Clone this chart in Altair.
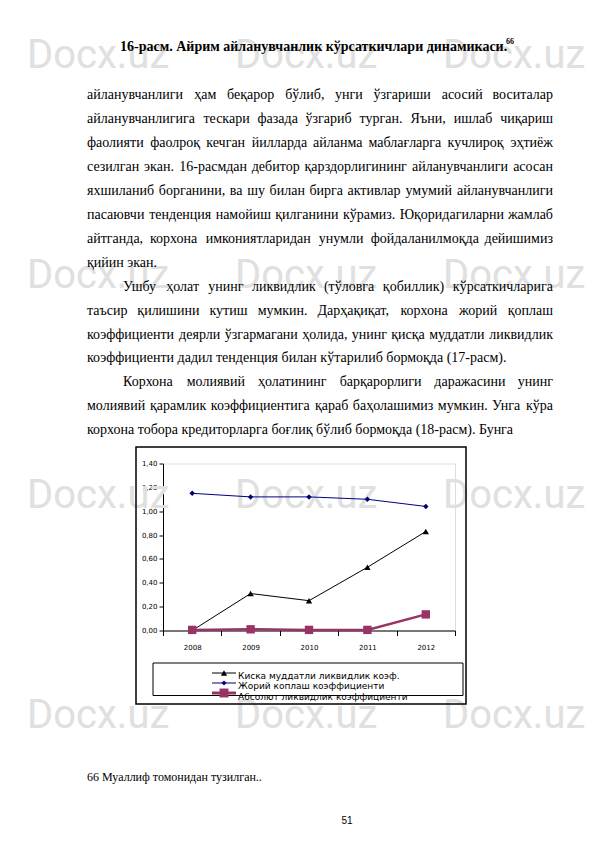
import altair as alt
import pandas as pd

# ---------------- data ----------------
years = ["2008", "2009", "2010", "2011", "2012"]
short_liq = [0.00, 0.31, 0.25, 0.53, 0.83]
current_ratio = [1.15, 1.12, 1.12, 1.10, 1.04]
abs_liq = [0.005, 0.01, 0.005, 0.005, 0.135]
series_names = ["Киска муддатли ликвидлик коэф.",
                "Жорий коплаш коэффициенти",
                "Абсолют ликвидлик коэффициенти"]
series_colors = ["#000000", "#000080", "#993366"]
series_shapes = ["triangle-up", "diamond", "square"]
y_ticks = [0.0, 0.2, 0.4, 0.6, 0.8, 1.0, 1.2, 1.4]

title_text = "16-расм. Айрим айланувчанлик кўрсаткичлари динамикаси."
title_note = "66"
body_lines = [
    ("айланувчанлиги ҳам беқарор бўлиб, унги ўзгариши  асосий воситалар", "j", 0),
    ("айланувчанлигига тескари фазада ўзгариб турган. Яъни, ишлаб чиқариш", "j", 0),
    ("фаолияти фаолроқ кечган йилларда айланма маблағларга кучлироқ эҳтиёж", "j", 0),
    ("сезилган экан. 16-расмдан дебитор қарздорлигининг айланувчанлиги асосан", "j", 0),
    ("яхшиланиб борганини, ва шу билан бирга активлар умумий айланувчанлиги", "j", 0),
    ("пасаювчи тенденция намойиш қилганини кўрамиз. Юқоридагиларни жамлаб", "j", 0),
    ("айтганда, корхона имкониятларидан унумли фойдаланилмоқда дейишимиз", "j", 0),
    ("қийин экан.", "l", 0),
    ("Ушбу ҳолат унинг ликвидлик (тўловга қобиллик) кўрсаткичларига", "j", 1),
    ("таъсир қилишини кутиш мумкин. Дарҳақиқат, корхона жорий қоплаш", "j", 0),
    ("коэффициенти деярли ўзгармагани ҳолида, унинг қисқа муддатли ликвидлик", "j", 0),
    ("коэффициенти дадил тенденция билан кўтарилиб бормоқда (17-расм).", "l", 0),
    ("Корхона молиявий ҳолатининг барқарорлиги даражасини унинг", "j", 1),
    ("молиявий қарамлик коэффициентига қараб баҳолашимиз мумкин. Унга кўра", "j", 0),
    ("корхона тобора кредиторларга боғлиқ бўлиб бормоқда (18-расм). Бунга", "l", 0),
]
footnote_text = "66 Муаллиф томонидан тузилган.."
page_number = "51"
watermark_text = "Docx.uz"

# ---------------- layout (page pixels) ----------------
PX0, PY0 = 163.0, 463.5   # plot-area origin on the page
PW, PH = 292, 167


def cx(px):
    return px - PX0


def cy(py):
    return py - PY0


TNR = {
    'а': 444, 'б': 500, 'в': 472, 'г': 410, 'д': 483, 'е': 444, 'ж': 691, 'з': 395,
    'и': 535, 'й': 535, 'к': 486, 'л': 500, 'м': 621, 'н': 535, 'о': 500, 'п': 535,
    'р': 500, 'с': 444, 'т': 437, 'у': 500, 'ф': 648, 'х': 500, 'ц': 535, 'ч': 503,
    'ш': 770, 'щ': 770, 'ъ': 517, 'ы': 672, 'ь': 456, 'э': 429, 'ю': 747, 'я': 479,
    'ў': 500, 'қ': 486, 'ғ': 410, 'ҳ': 500,
    'А': 722, 'Б': 574, 'В': 667, 'Г': 578, 'Д': 682, 'Е': 611, 'Ж': 896, 'З': 501,
    'И': 722, 'Й': 722, 'К': 667, 'Л': 678, 'М': 889, 'Н': 722, 'О': 722, 'П': 722,
    'Р': 556, 'С': 667, 'Т': 611, 'У': 708, 'Ф': 790, 'Х': 722, 'Ч': 650, 'Ш': 1009,
    'Ю': 1028, 'Я': 667, 'Ў': 708, 'Қ': 667, 'Ҳ': 722, 'Э': 660,
    ' ': 250, ',': 250, '.': 250, '-': 333, '(': 333, ')': 333,
}


def tw(s, size):
    return sum(TNR.get(ch, 500) for ch in s) * size / 1000.0


BODY_SIZE = 14
LEFT, RIGHT, INDENT = 87.0, 553.0, 123.0
LINE0, LSTEP = 95.0, 23.95

words_left = []
words_right = []
for i, (line, mode, indent) in enumerate(body_lines):
    y = cy(LINE0 + LSTEP * i)
    x0 = INDENT if indent else LEFT
    if mode == "l":
        words_left.append({"x": cx(x0), "y": y, "t": line})
        continue
    ws = line.split()
    widths = [tw(w, BODY_SIZE) for w in ws]
    gap = (RIGHT - x0 - sum(widths)) / (len(ws) - 1)
    x = x0
    for k, (w, wd) in enumerate(zip(ws, widths)):
        if k == len(ws) - 1:
            words_right.append({"x": cx(RIGHT), "y": y, "t": w})
        else:
            words_left.append({"x": cx(x), "y": y, "t": w})
        x += wd + gap

wm_rows = [68, 288, 508, 728]
wm_cols = [27, 235, 443]
wm = [{"x": cx(c), "y": cy(r), "t": watermark_text} for r in wm_rows for c in wm_cols]

# ---------------- layers ----------------
one = alt.Data(values=[{}])

watermark = alt.Chart(pd.DataFrame(wm)).mark_text(
    font="Roboto", fontSize=40, align="left", baseline="alphabetic", color="#e0e0e0"
).encode(x=alt.X("x:Q", scale=None, axis=None), y=alt.Y("y:Q", scale=None, axis=None), text="t:N")

body_l = alt.Chart(pd.DataFrame(words_left)).mark_text(
    font="Liberation Serif", fontSize=BODY_SIZE, align="left", baseline="middle", color="black"
).encode(x=alt.X("x:Q", scale=None, axis=None), y=alt.Y("y:Q", scale=None, axis=None), text="t:N")

body_r = alt.Chart(pd.DataFrame(words_right)).mark_text(
    font="Liberation Serif", fontSize=BODY_SIZE, align="right", baseline="middle", color="black"
).encode(x=alt.X("x:Q", scale=None, axis=None), y=alt.Y("y:Q", scale=None, axis=None), text="t:N")

title = alt.Chart(one).mark_text(
    font="Liberation Serif", fontSize=14, fontWeight="bold", align="left", baseline="middle", color="black"
).encode(x=alt.value(cx(120)), y=alt.value(cy(47)), text=alt.value(title_text))

title_sup = alt.Chart(one).mark_text(
    font="Liberation Serif", fontSize=8, fontWeight="bold", align="left", baseline="middle", color="black"
).encode(x=alt.value(cx(506)), y=alt.value(cy(42)), text=alt.value(title_note))

footnote = alt.Chart(one).mark_text(
    font="Liberation Serif", fontSize=12, align="left", baseline="middle", color="black"
).encode(x=alt.value(cx(87)), y=alt.value(cy(777)), text=alt.value(footnote_text))

pagenum = alt.Chart(one).mark_text(
    font="Liberation Sans", fontSize=10, align="center", baseline="middle", color="black"
).encode(x=alt.value(cx(347)), y=alt.value(cy(821)), text=alt.value(page_number))

frame = alt.Chart(one).mark_rect(filled=False, stroke="black", strokeWidth=1.5).encode(
    x=alt.value(cx(136)), x2=alt.value(cx(466)), y=alt.value(cy(447)), y2=alt.value(cy(704)))

# line chart
df = pd.DataFrame({
    "year": years * 3,
    "value": short_liq + current_ratio + abs_liq,
    "series": [series_names[0]] * 5 + [series_names[1]] * 5 + [series_names[2]] * 5,
})

x_enc = alt.X(
    "year:O", title=None, bandPosition=0.5,
    scale=alt.Scale(type="band", paddingInner=0, paddingOuter=0, domain=years),
    axis=alt.Axis(tickBand="extent", labelAngle=0, tickSize=5, labelPadding=8,
                  labelFontSize=7, labelFont="DejaVu Sans", labelColor="black",
                  domainColor="black", tickColor="black", grid=False))
y_enc = alt.Y(
    "value:Q", title=None,
    scale=alt.Scale(domain=[0, 1.4], nice=False, zero=True),
    axis=alt.Axis(values=y_ticks, labelExpr="replace(format(datum.value, '.2f'), '.', ',')",
                  tickSize=4, labelPadding=2, labelFontSize=7, labelFont="DejaVu Sans",
                  labelColor="black", domainColor="black", tickColor="black", grid=False))

line_w = [1, 1, 2.5]
pt_size = [40, 30, 70]
series_layers = []
for name, col, shp, w, s in zip(series_names, series_colors, series_shapes, line_w, pt_size):
    b = alt.Chart(df).transform_filter(alt.datum.series == name)
    series_layers.append(b.mark_line(color=col, strokeWidth=w).encode(x=x_enc, y=y_enc))
    series_layers.append(b.mark_point(shape=shp, filled=True, opacity=1, size=s, color=col)
                         .encode(x=x_enc, y=y_enc))
lines = alt.layer(*series_layers)

# legend (drawn)
legend_df = pd.DataFrame({
    "label": series_names,
    "color": series_colors,
    "shape": series_shapes,
    "size": [40, 25, 80],
    "sw": [1, 1, 3],
    "my": [cy(673), cy(683), cy(693)],
    "ty": [cy(675.5), cy(686), cy(697)],
})
leg_box = alt.Chart(one).mark_rect(filled=False, stroke="black", strokeWidth=1).encode(
    x=alt.value(cx(153)), x2=alt.value(cx(463)), y=alt.value(cy(663)), y2=alt.value(cy(695.5)))
leg_rule = alt.Chart(legend_df).mark_rule().encode(
    x=alt.value(cx(212)), x2=alt.value(cx(236)),
    y=alt.Y("my:Q", scale=None, axis=None),
    color=alt.Color("color:N", scale=None),
    strokeWidth=alt.StrokeWidth("sw:Q", scale=None))
leg_pt = alt.Chart(legend_df).mark_point(filled=True, opacity=1).encode(
    x=alt.value(cx(224)),
    y=alt.Y("my:Q", scale=None, axis=None),
    color=alt.Color("color:N", scale=None),
    shape=alt.Shape("shape:N", scale=None),
    size=alt.Size("size:Q", scale=None))
leg_txt = alt.Chart(legend_df).mark_text(
    font="DejaVu Sans", fontSize=9, align="left", baseline="middle", color="black"
).encode(x=alt.value(cx(238)), y=alt.Y("ty:Q", scale=None, axis=None), text="label:N")

chart = alt.layer(
    watermark, body_l, body_r, title, title_sup, footnote, pagenum,
    lines, leg_txt, leg_box, leg_rule, leg_pt, frame
).resolve_scale(x="independent", y="independent").properties(
    width=PW, height=PH,
    autosize=alt.AutoSizeParams(type="none"),
    padding={"left": 155, "top": 455.5, "right": 132, "bottom": 197.5},
).configure_view(stroke="#808080", strokeWidth=1).configure(background="white")

chart.save("out.html", embed_options={"renderer": "svg", "actions": False})
